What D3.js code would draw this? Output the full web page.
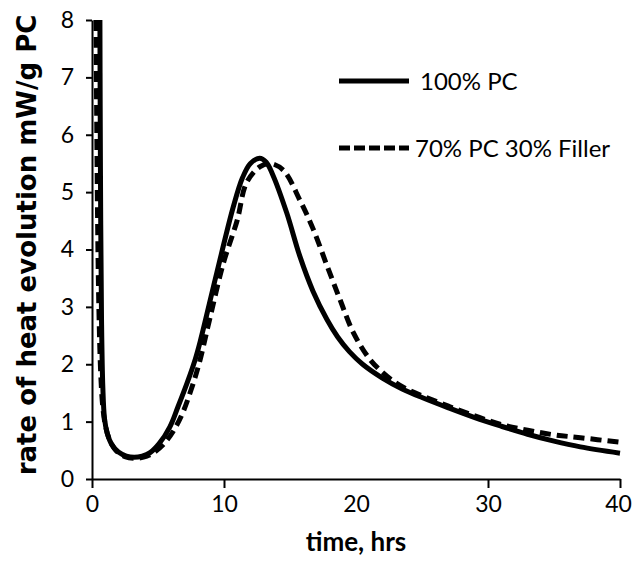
<!DOCTYPE html>
<head>
  <meta charset="utf-8">
  <script src="https://d3js.org/d3.v7.min.js"></script>
  <style>
    body { margin:0; background:#fff; }
    svg { display:block; }
    .tick text { font-family: Lato, sans-serif; font-size: 23px; fill:#000; }
  </style>
</head>
<body>
  <svg width="632" height="563"></svg>
  <script>
    // tick labels
    var xTicks = [0, 10, 20, 30, 40];
    var yTicks = [0, 1, 2, 3, 4, 5, 6, 7, 8];
    var seriesNames = ['100% PC', '70% PC 30% Filler'];

    // 100% PC (solid)
    var timePC = [0.6, 0.62, 0.66, 0.72, 0.82, 0.95, 1.15, 1.5, 2.0, 2.6, 3.2, 3.8, 4.4, 5.1, 5.9, 6.5, 7.2, 7.8, 8.2,
      9.45, 10.7, 11.4, 12.0, 12.7, 13.2, 13.7, 14.75, 15.75, 16.75, 17.8, 18.6, 19.5, 20.5, 22, 23.5, 25, 27, 29, 31, 33, 35, 37, 40];
    var ratePC = [8.0, 6.5, 4.5, 2.8, 1.6, 1.05, 0.8, 0.6, 0.47, 0.4, 0.38, 0.4, 0.46, 0.62, 0.91, 1.25, 1.67, 2.07, 2.4,
      3.59, 4.74, 5.25, 5.5, 5.59, 5.52, 5.3, 4.64, 3.88, 3.27, 2.78, 2.48, 2.22, 2.0, 1.76, 1.57, 1.42, 1.24, 1.07, 0.92, 0.78, 0.66, 0.56, 0.45];

    // 70% PC 30% Filler (dashed)
    var timeFill = [0.3, 0.35, 0.42, 0.52, 0.65, 0.8, 1.0, 1.3, 1.8, 2.5, 3.2, 3.9, 4.6, 5.4, 6.2, 6.9, 7.5, 8.1, 8.95,
      9.95, 11.0, 11.7, 12.7, 13.5, 14.5, 15.75, 16.75, 17.8, 18.8, 19.8, 21, 22, 23, 24, 25, 27, 29, 31, 33, 35, 37, 40];
    var rateFill = [8.0, 6.5, 4.6, 3.0, 1.9, 1.3, 0.95, 0.7, 0.5, 0.39, 0.36, 0.38, 0.45, 0.6, 0.85, 1.17, 1.55, 2.0, 2.82,
      3.76, 4.51, 5.16, 5.44, 5.5, 5.38, 4.86, 4.36, 3.72, 3.12, 2.55, 2.1, 1.86, 1.68, 1.55, 1.45, 1.27, 1.1, 0.95, 0.85, 0.77, 0.72, 0.64];

    var width = 632;
    var height = 563;
    var margin = {top: 20, right: 12, bottom: 84, left: 92};

    var svg = d3.select('svg');

    var xScale = d3.scaleLinear()
      .domain([0, 40])
      .range([margin.left, width - margin.right]);
    var yScale = d3.scaleLinear()
      .domain([0, 8])
      .range([height - margin.bottom, margin.top]);

    // axes
    var xAxis = d3.axisBottom(xScale)
      .tickValues(xTicks)
      .tickSize(9)
      .tickSizeOuter(0)
      .tickPadding(8);
    var yAxis = d3.axisLeft(yScale)
      .tickValues(yTicks)
      .tickSize(6)
      .tickSizeOuter(0)
      .tickPadding(12);

    var gx = svg.append('g')
      .attr('transform', 'translate(0,' + (height - margin.bottom) + ')')
      .call(xAxis);
    // the reference shows no tick mark at 20
    gx.selectAll('.tick').filter(d => d === 20).select('line').remove();
    // keep the last label inside the frame
    gx.selectAll('.tick').filter(d => d === 40).select('text').attr('dx', -2);

    var gy = svg.append('g')
      .attr('transform', 'translate(' + margin.left + ',0)')
      .call(yAxis);

    svg.selectAll('.domain, .tick line')
      .attr('stroke', '#000')
      .attr('stroke-width', 2);

    // axis titles
    svg.append('text')
      .attr('x', xScale(20))
      .attr('y', 551)
      .attr('text-anchor', 'middle')
      .style('font-family', 'Lato, sans-serif')
      .style('font-weight', 'bold')
      .style('font-size', '26px')
      .text('time, hrs');

    svg.append('text')
      .attr('transform', 'translate(36,245) rotate(-90)')
      .attr('text-anchor', 'middle')
      .style('font-family', '"DejaVu Sans", sans-serif')
      .style('font-weight', 'bold')
      .style('font-size', '26px')
      .text('rate of heat evolution mW/g PC');

    // curves
    var line = d3.line()
      .x(d => xScale(d[0]))
      .y(d => yScale(d[1]))
      .curve(d3.curveCatmullRom.alpha(0.5));

    var pcData = d3.zip(timePC, ratePC);
    var fillData = d3.zip(timeFill, rateFill);

    svg.append('path')
      .datum(fillData)
      .attr('d', line)
      .attr('fill', 'none')
      .attr('stroke', '#000')
      .attr('stroke-width', 5)
      .attr('stroke-dasharray', '11,6');

    svg.append('path')
      .datum(pcData)
      .attr('d', line)
      .attr('fill', 'none')
      .attr('stroke', '#000')
      .attr('stroke-width', 5);

    // legend
    var legend = svg.append('g');
    var legendRows = [
      {name: seriesNames[0], y: 81, dash: null, tx: 420},
      {name: seriesNames[1], y: 148, dash: '11,4', tx: 415}
    ];
    legendRows.forEach(r => {
      legend.append('line')
        .attr('x1', 339).attr('x2', 409)
        .attr('y1', r.y).attr('y2', r.y)
        .attr('stroke', '#000')
        .attr('stroke-width', 5)
        .attr('stroke-dasharray', r.dash);
      legend.append('text')
        .attr('x', r.tx)
        .attr('y', r.y)
        .attr('dy', '0.36em')
        .style('font-family', 'Lato, sans-serif')
        .style('font-size', '24px')
        .text(r.name);
    });
  </script>
</body>
